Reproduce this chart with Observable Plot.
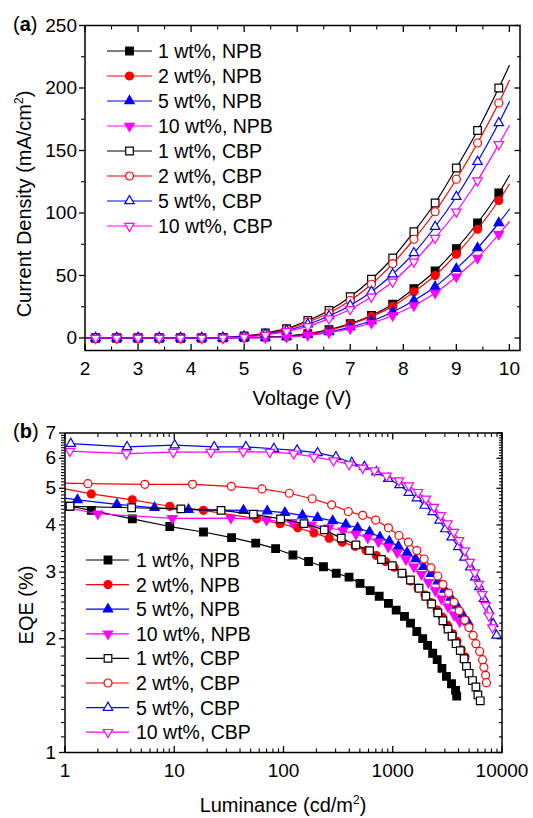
<!DOCTYPE html>
<html><head><meta charset="utf-8">
<script src="https://cdn.jsdelivr.net/npm/d3@7"></script>
<script src="https://cdn.jsdelivr.net/npm/@observablehq/plot@0.6"></script>
<style>
body{margin:0;background:#fff;font-family:"Liberation Sans",Arial,sans-serif;}
#wrap{width:533px;height:818px;}
#wrap svg{display:block;background:#fff;}
</style></head><body><div id="wrap"></div>
<script>
// ---------- series meta ----------
const seriesNames = ["1 wt%, NPB","2 wt%, NPB","5 wt%, NPB","10 wt%, NPB","1 wt%, CBP","2 wt%, CBP","5 wt%, CBP","10 wt%, CBP"];
const seriesColors = ["#000000","#ff0000","#0000ff","#ff00ff","#000000","#ff0000","#0000ff","#ff00ff"];
const seriesSymbols = ["square","circle","triangle","triangleDown","square","circle","triangle","triangleDown"];
const seriesFilled = [true,true,true,true,false,false,false,false];

// ---------- panel (a): J-V ----------
const voltage = [2.2,2.6,3.0,3.4,3.8,4.2,4.6,5.0,5.4,5.8,6.2,6.6,7.0,7.4,7.8,8.2,8.6,9.0,9.4,9.8];
const jNPB1  = [0,0,0,0,0,0,0.2,0.4,0.8,1.6,3.5,6.7,11.5,18,27,39.5,53.6,71.5,92,116];
const jNPB2  = [0,0,0,0,0,0,0.1,0.3,0.5,1.3,3.2,6,11,17.3,25.3,37,50,67,87,110];
const jNPB5  = [0,0,0,0,0,0,0.1,0.2,0.4,1.1,2.7,4.8,8.8,13.6,20.8,30,41,55.5,72,92];
const jNPB10 = [0,0,0,0,0,0,0,0.1,0.3,0.8,2.1,4.3,7.5,12,18,26,36,49,64,83];
const jCBP1  = [0,0,0,0,0,0.1,0.4,1.6,4,7.5,14,22,33,47,64,85,108,136,166,200];
const jCBP2  = [0,0,0,0,0,0.1,0.3,1.3,3.5,7,12.8,20,30,43,59.5,79,101,127,156,188];
const jCBP5  = [0,0,0,0,0,0.1,0.3,1.3,3,6,11,17.6,26,37,51,68,89,113,141,172];
const jCBP10 = [0,0,0,0,0,0,0.2,0.8,2.4,5.3,9.3,15.5,23,33,45,61,80,101,126,155];
const jAtV2  = [0,0,0,0,0,0,0,0];
const jAtV10 = [130,123,103,93,218,206,189,170];
const xTicksA = [2,3,4,5,6,7,8,9,10];
const yTicksA = [0,50,100,150,200,250];

// ---------- panel (b): EQE-L ----------
const lumNPB1 = [1.11,1.74,4.13,9.1,18.5,33.5,55.7,84.7,122,170,232,304,398,502,622,751,913,1075,1280,1454,1660,1880,2083,2320,2550,2820,3100,3450,3760,3850];
const eqeNPB1 = [4.48,4.37,4.15,3.96,3.83,3.70,3.58,3.46,3.33,3.20,3.10,2.98,2.91,2.80,2.68,2.59,2.48,2.38,2.29,2.20,2.09,2.00,1.92,1.83,1.76,1.67,1.59,1.52,1.46,1.41];
const lumNPB2 = [1.74,4.13,9.1,18.5,57,93,135,190,262,345,453,570,708,860,1030,1222,1454,1705,1970,2240,2550,2850,3160,3530,3870,4230,4590];
const eqeNPB2 = [4.83,4.66,4.48,4.37,4.15,4.03,3.93,3.81,3.69,3.60,3.51,3.42,3.32,3.20,3.09,2.97,2.84,2.72,2.61,2.49,2.38,2.28,2.17,2.06,1.97,1.87,1.79];
const lumNPB5 = [1.30,2.99,6.6,13.5,43,71,103,149,205,282,372,476,613,763,930,1125,1352,1620,1915,2240,2585,2985,3400,3860,4350,4890];
const eqeNPB5 = [4.66,4.53,4.44,4.39,4.37,4.35,4.31,4.24,4.18,4.10,4.01,3.93,3.83,3.71,3.62,3.51,3.38,3.25,3.10,2.97,2.84,2.70,2.57,2.45,2.32,2.21];
const lumNPB10 = [2.0,9.6,33,70,120,180,260,350,460,590,740,910,1100,1320,1560,1830,2120,2450,2800,3200,3650,4100];
const eqeNPB10 = [4.28,4.16,4.17,4.12,4.06,4.00,3.93,3.86,3.78,3.70,3.61,3.50,3.38,3.24,3.10,2.96,2.82,2.68,2.55,2.43,2.31,2.22];
const lumCBP1 = [1.11,4.07,11.5,26.8,53,94,154,236,338,460,613,787,990,1214,1454,1740,2010,2270,2585,2880,3207,3490,3800,4150,4500,4730,5000,5370,5770,6020,6320];
const eqeCBP1 = [4.48,4.44,4.41,4.37,4.27,4.15,4.03,3.88,3.69,3.54,3.42,3.24,3.12,2.98,2.86,2.72,2.59,2.47,2.34,2.23,2.12,2.03,1.94,1.86,1.77,1.69,1.62,1.55,1.49,1.42,1.37];
const lumCBP2 = [1.62,5.38,14.7,33.3,63.5,113,183,276,392,531,698,913,1140,1393,1660,1939,2240,2585,2880,3250,3640,4050,4560,4980,5440,5770,6250,6630,6830,7080,7200];
const eqeCBP2 = [5.14,5.12,5.12,5.06,4.98,4.85,4.69,4.52,4.34,4.24,4.12,3.93,3.75,3.60,3.42,3.25,3.08,2.93,2.78,2.64,2.50,2.37,2.24,2.14,2.04,1.94,1.85,1.76,1.68,1.60,1.53];
const lumCBP5 = [1.13,3.7,10.1,23.2,45.3,81.7,133,205,302,422,550,708,910,1155,1403,1660,1960,2320,2680,3030,3460,3980,4530,5130,5700,6200,6830,7600,8300,8920];
const eqeCBP5 = [6.56,6.43,6.50,6.43,6.43,6.36,6.30,6.20,6.05,5.84,5.70,5.52,5.30,5.10,4.87,4.71,4.50,4.33,4.11,3.90,3.71,3.50,3.28,3.09,2.91,2.74,2.55,2.37,2.19,2.04];
const lumCBP10 = [1.11,3.65,9.8,21.6,42.8,75,124,190,287,398,531,680,877,1140,1403,1705,2010,2380,2750,3170,3620,4050,4560,5080,5630,6130,6590,7080,7600,8170];
const eqeCBP10 = [6.27,6.17,6.23,6.23,6.25,6.23,6.17,6.05,5.92,5.78,5.66,5.57,5.39,5.24,5.08,4.88,4.69,4.46,4.24,4.03,3.83,3.64,3.42,3.19,2.99,2.79,2.62,2.45,2.30,2.14];
const eqeAtL1 = [null,4.98,4.71,4.45,null,5.16,null,6.35];
const xTicksB = [1,10,100,1000,10000];
const yTicksB = [1,2,3,4,5,6,7];

// ---------- helpers ----------
const sqrt3 = Math.sqrt(3);
const triangleDown = {draw(ctx, size){ const y = -Math.sqrt(size/(sqrt3*3)); ctx.moveTo(0,-y*2); ctx.lineTo(-sqrt3*y, y); ctx.lineTo(sqrt3*y, y); ctx.closePath(); }};
const symbolMap = {square:d3.symbolSquare, circle:d3.symbolCircle, triangle:d3.symbolTriangle, triangleDown};
const rMap = {square:4.3, circle:4, triangle:3.5, triangleDown:3.5};
const FONT = '"Liberation Sans", Arial, sans-serif';

const jSeries = [jNPB1,jNPB2,jNPB5,jNPB10,jCBP1,jCBP2,jCBP5,jCBP10];
const lumSeries = [lumNPB1,lumNPB2,lumNPB5,lumNPB10,lumCBP1,lumCBP2,lumCBP5,lumCBP10];
const eqeSeries = [eqeNPB1,eqeNPB2,eqeNPB5,eqeNPB10,eqeCBP1,eqeCBP2,eqeCBP5,eqeCBP10];

function seriesMarks(pointsOf, linesOf, curve){
  const marks = [];
  seriesNames.forEach((name,i)=>{
    const sym = seriesSymbols[i];
    marks.push(Plot.line(linesOf(i), {x:"x", y:"y", stroke:seriesColors[i], strokeWidth:1.2, curve}));
    marks.push(Plot.dot(pointsOf(i), {x:"x", y:"y", symbol:symbolMap[sym], r:rMap[sym],
      fill: seriesFilled[i] ? seriesColors[i] : "white", stroke:seriesColors[i], strokeWidth:1.2}));
  });
  return marks;
}

function axisMarks(o){
  const blank = () => "";
  return [
    Plot.axisX(o.xMajor, {anchor:"bottom", tickSize:0, tickPadding:o.padX, tickFormat:o.xFmt, fontSize:19, label:null}),
    Plot.axisY(o.yMajor, {anchor:"left", tickSize:0, tickPadding:o.padY, tickFormat:o.yFmt, fontSize:19, label:null}),
    Plot.axisX(o.xMajor, {anchor:"bottom", tickSize:-6, tickFormat:blank, label:null, strokeWidth:1.3}),
    Plot.axisX(o.xMinor, {anchor:"bottom", tickSize:-3.5, tickFormat:blank, label:null, strokeWidth:1.1}),
    Plot.axisX(o.xMajor, {anchor:"top", tickSize:-6, tickFormat:blank, label:null, strokeWidth:1.3}),
    Plot.axisX(o.xMinor, {anchor:"top", tickSize:-3.5, tickFormat:blank, label:null, strokeWidth:1.1}),
    Plot.axisY(o.yMajor, {anchor:"left", tickSize:5.5, tickFormat:blank, label:null, strokeWidth:1.3}),
    Plot.axisY(o.yMinor, {anchor:"left", tickSize:3.5, tickFormat:blank, label:null, strokeWidth:1.1}),
    Plot.axisY(o.yMajor, {anchor:"right", tickSize:-6, tickFormat:blank, label:null, strokeWidth:1.3}),
    Plot.axisY(o.yMinor, {anchor:"right", tickSize:-3.5, tickFormat:blank, label:null, strokeWidth:1.1}),
    Plot.frame({stroke:"black", strokeWidth:1.5})
  ];
}

function addText(svg, {x, y, rotate=0, size=20, anchor="middle", parts}){
  const t = d3.select(svg).append("text")
    .attr("transform", `translate(${x},${y}) rotate(${rotate})`)
    .attr("text-anchor", anchor).attr("font-family", FONT).attr("font-size", size).attr("fill","black");
  parts.forEach(p=>{
    const ts = t.append("tspan").text(p.text);
    if (p.bold) ts.attr("font-weight","bold");
    if (p.sup) ts.attr("font-size", size*0.6).attr("dy", -size*0.42);
    if (p.unsup) ts.attr("dy", size*0.42);
  });
}

function addLegend(svg, {x0, x1, xm, xt, y0, dy, size}){
  const g = d3.select(svg).append("g");
  seriesNames.forEach((name,i)=>{
    const y = y0 + i*dy, sym = seriesSymbols[i];
    g.append("line").attr("x1",x0).attr("x2",x1).attr("y1",y).attr("y2",y).attr("stroke",seriesColors[i]).attr("stroke-width",1.2);
    g.append("path").attr("transform",`translate(${xm},${y})`)
      .attr("d", d3.symbol().type(symbolMap[sym]).size(Math.PI*rMap[sym]*rMap[sym])())
      .attr("fill", seriesFilled[i] ? seriesColors[i] : "white").attr("stroke", seriesColors[i]).attr("stroke-width",1.2);
    g.append("text").attr("x",xt).attr("y",y+7).attr("text-anchor","start").attr("font-family",FONT).attr("font-size",size).attr("fill","black").text(name);
  });
}

const wrap = document.getElementById("wrap");

// ---------- panel (a) ----------
const mlA = 84.5, mrA = 13.5, mtA = 25, mbA = 60, hA = 410;
const chartA = Plot.plot({
  width:533, height:hA, marginLeft:mlA, marginRight:mrA, marginTop:mtA, marginBottom:mbA,
  style:{fontFamily:FONT, color:"black", background:"white", overflow:"visible"},
  x:{type:"linear", domain:[2,10.2]},
  y:{type:"linear", domain:[-10,250]},
  marks:[
    ...seriesMarks(
      i => voltage.map((v,k)=>({x:v, y:jSeries[i][k]})),
      i => [{x:2, y:jAtV2[i]}, ...voltage.map((v,k)=>({x:v, y:jSeries[i][k]})), {x:10, y:jAtV10[i]}],
      "catmull-rom"),
    ...axisMarks({
      xMajor:xTicksA, xMinor:d3.range(2.5,10.2,1), yMajor:yTicksA, yMinor:d3.range(25,250,50),
      xFmt:d=>String(d), yFmt:d=>String(d), padX:11, padY:8
    })
  ]
});
wrap.appendChild(chartA);
addText(chartA, {x:13, y:31, size:20, anchor:"start", parts:[{text:"("},{text:"a",bold:true},{text:")"}]});
addText(chartA, {x:31, y:204, rotate:-90, size:20, parts:[{text:"Current Density (mA/cm"},{text:"2",sup:true},{text:")",unsup:true}]});
addText(chartA, {x:(mlA+533-mrA)/2, y:405, size:20, parts:[{text:"Voltage (V)"}]});
addLegend(chartA, {x0:107, x1:152, xm:129.5, xt:158, y0:51, dy:25, size:19.5});

// ---------- panel (b) ----------
const mlB = 64.5, mrB = 31.5, mtB = 22.5, mbB = 66, hB = 408;
const minorLogX = [];
[1,10,100,1000].forEach(d=>{ for(let m=2;m<=9;m++) minorLogX.push(d*m); });
const minorLogY = [];
for (let k=11; k<70; k++){ if (k%10 !== 0) minorLogY.push(k/10); }
const chartB = Plot.plot({
  width:533, height:hB, marginLeft:mlB, marginRight:mrB, marginTop:mtB, marginBottom:mbB,
  style:{fontFamily:FONT, color:"black", background:"white", overflow:"visible"},
  x:{type:"log", domain:[1,10000]},
  y:{type:"log", domain:[1,7]},
  marks:[
    ...seriesMarks(
      i => lumSeries[i].map((l,k)=>({x:l, y:eqeSeries[i][k]})),
      i => (eqeAtL1[i]!=null ? [{x:1, y:eqeAtL1[i]}] : []).concat(lumSeries[i].map((l,k)=>({x:l, y:eqeSeries[i][k]}))),
      "linear"),
    ...axisMarks({
      xMajor:xTicksB, xMinor:minorLogX, yMajor:yTicksB, yMinor:minorLogY,
      xFmt:d=>String(d), yFmt:d=>String(d), padX:11, padY:9
    })
  ]
});
wrap.appendChild(chartB);
addText(chartB, {x:13, y:28, size:20, anchor:"start", parts:[{text:"("},{text:"b",bold:true},{text:")"}]});
addText(chartB, {x:32.5, y:195, rotate:-90, size:20, parts:[{text:"EQE (%)"}]});
addText(chartB, {x:(mlB+533-mrB)/2, y:402, size:20, parts:[{text:"Luminance (cd/m"},{text:"2",sup:true},{text:")",unsup:true}]});
addLegend(chartB, {x0:86, x1:129, xm:108, xt:136, y0:150, dy:24.6, size:19.5});
</script></body></html>
